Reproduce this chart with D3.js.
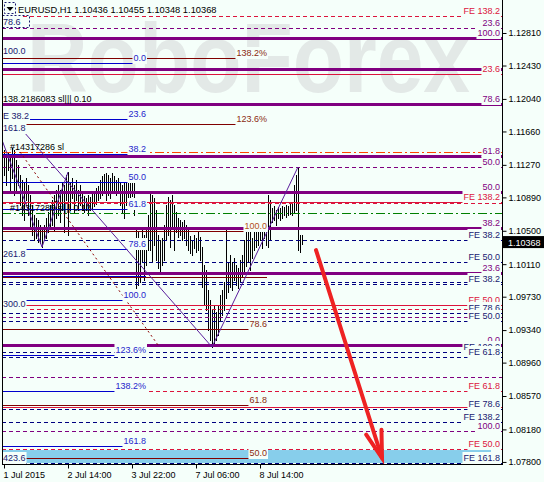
<!DOCTYPE html>
<html><head><meta charset="utf-8">
<script src="https://cdn.jsdelivr.net/npm/d3@7"></script>
<style>html,body{margin:0;padding:0;background:#F5FFFA;}svg{display:block;font-family:"Liberation Sans",Arial,sans-serif;}</style>
</head><body><svg id="c" width="544" height="482"></svg>
<script>
// ---------- DATA ----------
const headerText = "EURUSD,H1  1.10436 1.10455 1.10348 1.10368";
const lastPrice = 1.10368;
const highs = [
1.11443,1.11385,1.11420,1.11385,1.11467,1.11443,1.11327,1.11268,1.11151,1.11093,
1.11070,1.11116,1.11035,1.10918,1.10801,1.10684,1.10649,1.10626,1.10567,1.10532,
1.10567,1.10649,1.10719,1.10801,1.10859,1.10918,1.10976,1.11035,1.10976,1.11070,
1.11035,1.11151,1.11186,1.11070,1.11116,1.11035,1.11093,1.10976,1.11035,1.10953,
1.10906,1.10883,1.10918,1.10894,1.10929,1.10953,1.10999,1.11023,1.11093,1.11140,
1.11163,1.11175,1.11151,1.11116,1.11175,1.11140,1.11093,1.11116,1.11070,1.11035,
1.11058,1.11070,1.11116,1.11151,1.11151,1.11093,1.10544,1.10486,1.10392,1.10544,
1.10451,1.10532,1.10684,1.10941,1.10918,1.10883,1.10743,1.10451,1.10392,1.10416,
1.10567,1.10801,1.10894,1.10859,1.10918,1.10801,1.10719,1.10649,1.10626,1.10602,
1.10626,1.10567,1.10509,1.10439,1.10392,1.10451,1.10416,1.10486,1.10427,1.10310,
1.10100,1.10042,1.09808,1.09691,1.09575,1.09633,1.09551,1.09633,1.09750,1.09808,
1.09902,1.10509,1.10135,1.10217,1.10135,1.10182,1.10100,1.10065,1.10159,1.10217,
1.10392,1.10532,1.10486,1.10532,1.10416,1.10532,1.10591,1.10509,1.10567,1.10532,
1.10626,1.10567,1.10918,1.10859,1.10766,1.10789,1.10743,1.10778,1.10766,1.10789,
1.10778,1.10801,1.10789,1.10813,1.10824,1.11035,1.11151,1.11245,1.10451,1.10455];
const lows = [
1.11151,1.11035,1.11210,1.10976,1.11116,1.10918,1.10953,1.11035,1.10801,1.10684,
1.10626,1.10859,1.10684,1.10532,1.10451,1.10392,1.10416,1.10369,1.10357,1.10310,
1.10392,1.10416,1.10486,1.10532,1.10567,1.10509,1.10649,1.10684,1.10602,1.10743,
1.10486,1.10859,1.10451,1.10743,1.10883,1.10719,1.10859,1.10743,1.10801,1.10743,
1.10719,1.10743,1.10684,1.10743,1.10766,1.10789,1.10813,1.10859,1.10883,1.10918,
1.10953,1.10859,1.10918,1.10883,1.10976,1.10941,1.10918,1.10953,1.10801,1.10719,
1.10649,1.10801,1.10883,1.10859,1.10906,1.10684,1.09691,1.09867,1.09902,1.10135,
1.09925,1.10100,1.10275,1.10275,1.10135,1.10334,1.10159,1.10065,1.10018,1.10100,
1.10159,1.10392,1.10451,1.10310,1.10532,1.10275,1.10486,1.10427,1.10451,1.10392,
1.10416,1.10334,1.10275,1.10240,1.10217,1.10299,1.10252,1.10275,1.10159,1.09843,
1.09633,1.09575,1.09341,1.09224,1.09142,1.09166,1.09224,1.09283,1.09458,1.09516,
1.09575,1.09715,1.09785,1.09843,1.09808,1.09925,1.09867,1.09832,1.09902,1.09960,
1.10007,1.10088,1.10135,1.10042,1.10182,1.10275,1.10310,1.10334,1.10392,1.10299,
1.10416,1.10334,1.10310,1.10392,1.10602,1.10626,1.10567,1.10649,1.10626,1.10649,
1.10684,1.10661,1.10684,1.10696,1.10684,1.10719,1.10743,1.10275,1.10252,1.10348];
const xTickIndex = [0, 32, 64, 96, 128];
const xTickLabels = ["1 Jul 2015", "2 Jul 14:00", "3 Jul 22:00", "7 Jul 06:00", "8 Jul 14:00"];
const yTicks = [1.12810,1.12430,1.12040,1.11660,1.11270,1.10890,1.10500,1.10110,1.09730,1.09340,1.08960,1.08570,1.08180,1.07800];

// horizontal levels across the whole chart
const levelPrices = [1.13009,1.12868,1.12752,1.12390,1.12331,1.11969,1.11981,1.11420,1.11373,1.11245,1.10953,1.10824,1.10836,1.10708,1.10532,1.10392,1.10135,1.10007,1.09902,1.09878,1.09633,1.09586,1.09540,1.09493,1.09446,1.09166,1.09084,1.09026,1.08792,1.08629,1.08442,1.08418,1.08266,1.08161,1.07951,1.07788];
const levelGroups = ["feCrimsonDash","fibSub","fibMain","fibMain","feCrimson","fibSub","fibMain","stopLoss","fibMain","fibSub","fibMain","feCrimsonDash","feCrimson","takeProfit","fibMain","feNavy","feNavy","fibMain","feNavy","feNavy","feCrimson","feCrimsonDash","feNavy","fibSub","feNavy","fibMain","feNavy","feNavy","fibSub","feCrimsonDash","feCrimson","feNavy","feNavy","fibSub","feCrimsonDash","feNavy"];
const levelLabels = ["FE 138.2","23.6","100.0","","23.6","","78.6","","61.8","50.0","50.0","","FE 138.2","","38.2","FE 38.2","FE 50.0","23.6","","FE 38.2","FE 50.0","","FE 78.6","","FE 50.0","0.0","FE 100.0","FE 61.8","","FE 61.8","","FE 78.6","FE 138.2","100.0","FE 50.0","FE 161.8"];

// blue fibonacci (ends at bar 71)
const fibBlueEnd = 71;
const fibBluePrices = [1.12460,1.11806,1.11397,1.11070,1.10754,1.10287,1.09972,1.09691,1.09049,1.08629,1.07986];
const fibBlueLabels = ["0.0","23.6","38.2","50.0","61.8","78.6","","100.0","123.6%","138.2%","161.8"];
// maroon fibonacci (ends at bar 131.5)
const fibMaroonEnd = 131.5;
const fibMaroonPrices = [1.12518,1.11747,1.10497,1.09960,1.09353,1.08465,1.07846];
const fibMaroonLabels = ["138.2%","123.6%","100.0","","78.6","61.8","50.0"];

// labels at left edge
const leftLabelPrices = [1.12880,1.12541,1.11782,1.11642,1.10170,1.09586,1.07788];
const leftLabelTexts = ["78.6","100.0","E 38.2","161.8","261.8","300.0","423.6"];
// order labels
const orderLabelPrices = [1.11981, 1.11420, 1.10708];
const orderLabelBars = [-0.5, 3, 3];
const orderLabelTexts = ["138.2186083 sl||| 0.10", "#14317286 sl", "#14317286 sl||| 0.10"];

const zigzagA = [[-1, 1.11560], [19, 1.10310], [32, 1.11186]];
const zigzagB = [[1.5, 1.11880], [104, 1.09142], [147, 1.11245]];
const dottedTrend = [[8, 1.11420], [77, 1.09166]];
const arrowPoints = [[156, 1.10275], [189, 1.07846]];
const zone = {from: -1, to: 243.5, top: 1.07939, bottom: 1.07788};

// ---------- DRAW ----------
const BG = "#F5FFFA";
const X0 = 2, X1 = 502, YB = 464;
const svg = d3.select("#c");
svg.append("rect").attr("width", 544).attr("height", 482).attr("fill", BG);

const x = d3.scaleLinear().domain([0, 149]).range([4, 302]);
const y = d3.scaleLinear().domain([1.131954, 1.077759]).range([0, YB]);
const py = p => Math.round(y(p)) + 0.5;

svg.append("clipPath").attr("id", "plot").append("rect").attr("x", X0).attr("y", 0).attr("width", X1 - X0).attr("height", YB);
const plot = svg.append("g").attr("clip-path", "url(#plot)");

// watermark
plot.append("text").attr("x", 27).attr("y", 92).attr("font-size", 98).attr("font-weight", "bold").attr("textLength", 443)
  .attr("lengthAdjust", "spacingAndGlyphs").attr("fill", "#e3e9e7").text("RoboForex");

// zone rectangle
plot.append("rect").attr("x", x(zone.from)).attr("y", y(zone.top))
  .attr("width", x(zone.to) - x(zone.from)).attr("height", y(zone.bottom) - y(zone.top)).attr("fill", "#87CEEB");

// bars
plot.append("g").selectAll("line").data(highs).join("line")
  .attr("x1", (d, i) => Math.round(x(i)) + 0.5).attr("x2", (d, i) => Math.round(x(i)) + 0.5)
  .attr("y1", d => Math.round(y(d))).attr("y2", (d, i) => Math.max(Math.round(y(lows[i])) + 1, Math.round(y(d)) + 1))
  .attr("stroke", "#000").attr("stroke-width", 1);

const groupStyle = {
  fibMain: {stroke: "#800080", w: 3, dash: null, text: "#800080"},
  fibSub: {stroke: "#800080", w: 1, dash: "4,3", text: "#800080"},
  feCrimson: {stroke: "#DC143C", w: 1, dash: null, text: "#DC143C"},
  feCrimsonDash: {stroke: "#DC143C", w: 1, dash: "4,3", text: "#DC143C"},
  feNavy: {stroke: "#000080", w: 1, dash: "4,3", text: "#191970"},
  stopLoss: {stroke: "#FF4500", w: 1, dash: "9,3,2,3", text: "#000"},
  takeProfit: {stroke: "#008000", w: 1, dash: "9,3,2,3", text: "#000"}
};

const lines = plot.append("g");
function hline(p, x1, x2, stroke, w, dash) {
  lines.append("line").attr("x1", x1).attr("x2", x2).attr("y1", py(p)).attr("y2", py(p))
    .attr("stroke", stroke).attr("stroke-width", w).attr("stroke-dasharray", dash);
}
levelPrices.forEach((p, i) => { const s = groupStyle[levelGroups[i]]; hline(p, X0, X1, s.stroke, s.w, s.dash); });
fibBluePrices.forEach(p => hline(p, X0, x(fibBlueEnd), "#0000CD", 1, null));
fibMaroonPrices.forEach(p => hline(p, X0, x(fibMaroonEnd), "#800000", 1, null));

// zigzags and trend
const lineGen = d3.line().x(d => x(d[0])).y(d => y(d[1]));
[zigzagA, zigzagB].forEach(z => plot.append("path").attr("d", lineGen(z)).attr("fill", "none").attr("stroke", "#5a1e9c").attr("stroke-width", 1));
plot.append("path").attr("d", lineGen(dottedTrend)).attr("fill", "none").attr("stroke", "#8B0000").attr("stroke-width", 1).attr("stroke-dasharray", "2,3");

// labels
const labels = plot.append("g").attr("font-size", 9);
function label(text, xp, base, color, anchor) {
  const t = labels.append("text").attr("x", xp).attr("y", base).attr("fill", color).attr("text-anchor", anchor).text(text);
  const b = t.node().getBBox();
  labels.insert("rect", () => t.node()).attr("x", b.x - 1).attr("y", base - 9).attr("width", b.width + 2).attr("height", 12).attr("fill", BG);
}
fibBluePrices.forEach((p, i) => { if (fibBlueLabels[i]) label(fibBlueLabels[i], x(fibBlueEnd), Math.round(y(p)) - 2, "#2525cc", "end"); });
fibMaroonPrices.forEach((p, i) => { if (fibMaroonLabels[i]) label(fibMaroonLabels[i], x(fibMaroonEnd), Math.round(y(p)) - 2, i === 2 ? "#b4501a" : "#8b2a10", "end"); });
leftLabelPrices.forEach((p, i) => label(leftLabelTexts[i], 3, Math.round(y(p)) - 2, "#191970", "start"));
levelPrices.forEach((p, i) => { if (levelLabels[i]) label(levelLabels[i], 500, Math.round(y(p)) - 2, groupStyle[levelGroups[i]].text, "end"); });
orderLabelPrices.forEach((p, i) => labels.append("text").attr("x", x(orderLabelBars[i])).attr("y", Math.round(y(p)) - 2).attr("fill", "#000").text(orderLabelTexts[i]));

// selection box around top-left label
plot.append("rect").attr("x", 2.5).attr("y", 15.5).attr("width", 27).attr("height", 12).attr("fill", "none")
  .attr("stroke", "#191970").attr("stroke-dasharray", "2,2");

// arrow
const a0 = [x(arrowPoints[0][0]), y(arrowPoints[0][1])], a1 = [x(arrowPoints[1][0]), y(arrowPoints[1][1])];
const dx = a1[0] - a0[0], dy = a1[1] - a0[1], L = Math.hypot(dx, dy), ux = dx / L, uy = dy / L;
const bx = a1[0] - 27 * ux, by = a1[1] - 27 * uy;
const arrowG = plot.append("g").attr("stroke", "#EE2222").attr("stroke-width", 4).attr("stroke-linecap", "round").attr("fill", "none");
arrowG.append("line").attr("x1", a0[0]).attr("y1", a0[1]).attr("x2", a1[0]).attr("y2", a1[1]);
arrowG.append("polyline").attr("points", [[bx + 8 * uy, by - 8 * ux], a1, [bx - 8 * uy, by + 8 * ux]].map(d => d.join(",")).join(" "));

// header
svg.append("rect").attr("x", 4.5).attr("y", 2.5).attr("width", 11).attr("height", 11).attr("fill", BG).attr("stroke", "#191970").attr("stroke-dasharray", "2,2");
svg.append("path").attr("d", "M6.5,7 L13.5,7 L10,11 Z").attr("fill", "#000");
svg.append("text").attr("x", 18).attr("y", 13).attr("font-size", 9.3).attr("fill", "#000").text(headerText);

// frame
svg.append("line").attr("x1", X0 + 0.5).attr("x2", X0 + 0.5).attr("y1", 0).attr("y2", YB + 0.5).attr("stroke", "#000");
svg.append("line").attr("x1", X1 + 0.5).attr("x2", X1 + 0.5).attr("y1", 0).attr("y2", YB + 0.5).attr("stroke", "#000");
svg.append("line").attr("x1", X0).attr("x2", X1 + 1).attr("y1", YB + 0.5).attr("y2", YB + 0.5).attr("stroke", "#000");

// axes
const yAx = svg.append("g").attr("transform", `translate(${X1 + 0.5},0)`)
  .call(d3.axisRight(y).tickValues(yTicks).tickSize(4).tickPadding(2).tickFormat(d3.format(".5f")));
yAx.select(".domain").remove();
yAx.selectAll("text").attr("font-size", 9).attr("fill", "#000").attr("font-family", "Liberation Sans, Arial, sans-serif");
yAx.selectAll("line").attr("stroke", "#000");

const xAx = svg.append("g").attr("transform", `translate(0,${YB + 0.5})`)
  .call(d3.axisBottom(x).tickValues(xTickIndex).tickSize(4).tickPadding(3).tickFormat((d, i) => xTickLabels[i]));
xAx.select(".domain").remove();
xAx.selectAll("text").attr("font-size", 9).attr("fill", "#000").attr("text-anchor", "start").attr("dx", -1)
  .attr("font-family", "Liberation Sans, Arial, sans-serif");
xAx.selectAll("line").attr("stroke", "#000");

// last price box
svg.append("rect").attr("x", X1 + 1).attr("y", y(lastPrice) - 6).attr("width", 41).attr("height", 12).attr("fill", "#000");
svg.append("text").attr("x", X1 + 6).attr("y", y(lastPrice) + 3.5).attr("font-size", 9).attr("fill", "#fff").text(d3.format(".5f")(lastPrice));
</script></body></html>
